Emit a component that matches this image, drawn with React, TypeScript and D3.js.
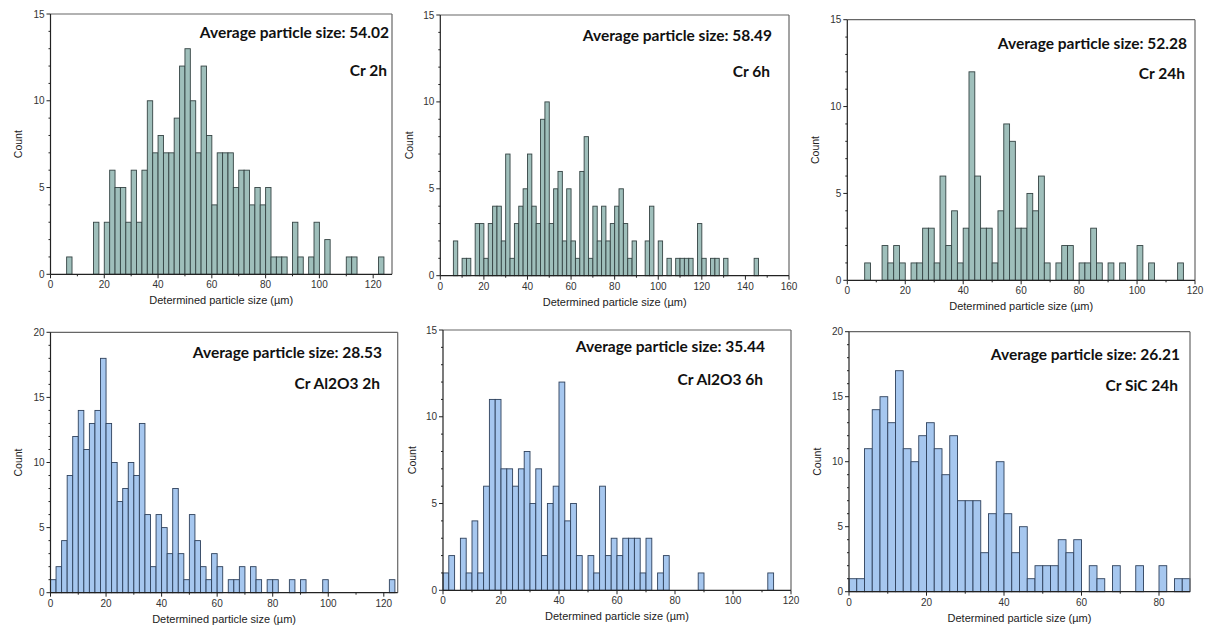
import React from "react";
import * as d3 from "d3";

// ---------- data (bin width 2 µm) ----------
const binWidth = 2;

const cr2hStart = 6;
const cr2hCounts = [1,0,0,0,0,3,0,3,6,5,5,3,6,3,6,10,7,8,7,7,9,12,13,10,7,12,8,4,7,7,7,5,6,6,4,5,4,5,1,1,1,0,3,1,0,1,3,0,2,0,0,0,1,1,0,0,0,0,1];

const cr6hStart = 6;
const cr6hCounts = [2,0,1,1,0,3,3,1,3,4,4,2,7,1,3,4,5,7,4,3,9,10,3,5,6,2,5,2,1,6,8,1,4,2,4,2,3,4,5,3,1,2,0,0,2,4,0,2,0,1,0,1,1,1,1,0,3,1,0,1,1,0,1,0,0,0,0,0,0,1];

const cr24hStart = 6;
const cr24hCounts = [1,0,0,2,1,2,1,0,1,1,3,3,1,6,2,4,1,3,12,6,3,3,1,4,9,8,3,3,5,4,6,1,0,1,2,2,0,1,1,3,1,0,1,0,1,0,0,2,0,1,0,0,0,0,1];

const crAl2h_Start = 0;
const crAl2hCounts = [1,2,4,9,12,14,11,13,14,18,13,10,7,8,10,9,13,6,2,6,5,3,8,3,1,6,4,2,1,3,2,0,1,1,2,0,2,1,0,1,1,0,0,1,0,1,0,0,0,1,0,0,0,0,0,0,0,0,0,0,0,1];

const crAl6h_Start = 0;
const crAl6hCounts = [1,2,0,3,1,4,1,6,11,11,7,7,6,7,8,5,7,2,5,6,12,4,5,2,0,2,1,6,2,3,2,3,3,3,1,3,0,1,2,0,0,0,0,0,1,0,0,0,0,0,0,0,0,0,0,0,1];

const crSiC24h_Start = 0;
const crSiC24hCounts = [1,1,11,14,15,13,17,11,10,12,13,11,9,12,7,7,7,3,6,10,6,3,5,1,2,2,2,4,3,4,0,2,1,0,2,0,0,2,0,0,2,0,1,1];

const averages = ["54.02", "58.49", "52.28", "28.53", "35.44", "26.21"];
const sampleLabels = ["Cr 2h", "Cr 6h", "Cr 24h", "Cr Al2O3 2h", "Cr Al2O3 6h", "Cr SiC 24h"];
const xMaxes = [127, 160, 120, 125, 120, 88];
const yMaxes = [15, 15, 15, 20, 15, 20];
const xTickSteps = [20, 20, 20, 20, 20, 20];
const yTickSteps = [5, 5, 5, 5, 5, 5];

const xTitle = "Determined particle size (µm)";
const yTitle = "Count";

// ---------- layout ----------
const TEAL = "#9fbfbb";
const BLUE = "#a6c7ef";

const panels = [
  { start: cr2hStart, counts: cr2hCounts, box: [50.5, 392, 14, 274.3], fill: TEAL, stroke: "#354444", txtR: 389, avgY: 38, labY: 76, countX: 22 },
  { start: cr6hStart, counts: cr6hCounts, box: [440.3, 789, 15, 275.7], fill: TEAL, stroke: "#354444", txtR: 772, avgY: 41, labY: 77, countX: 413 },
  { start: cr24hStart, counts: cr24hCounts, box: [847.3, 1195, 19.7, 280.3], fill: TEAL, stroke: "#354444", txtR: 1187, avgY: 49, labY: 79, countX: 819 },
  { start: crAl2h_Start, counts: crAl2hCounts, box: [50.5, 397.7, 332.3, 592.7], fill: BLUE, stroke: "#2e415c", txtR: 382, avgY: 358, labY: 389, countX: 22 },
  { start: crAl6h_Start, counts: crAl6hCounts, box: [443, 791, 330, 590.3], fill: BLUE, stroke: "#2e415c", txtR: 765, avgY: 352, labY: 385, countX: 416 },
  { start: crSiC24h_Start, counts: crSiC24hCounts, box: [849, 1190, 331.7, 591.7], fill: BLUE, stroke: "#2e415c", txtR: 1180, avgY: 360, labY: 391, countX: 821 },
];

const tickFont = "'Liberation Sans', Arial, sans-serif";
const annFont = "Lato, 'Open Sans', sans-serif";

function Panel({ p, i }: { p: any; i: number }) {
  const [x0, x1, y0, y1] = p.box;
  const xMax = xMaxes[i];
  const yMax = yMaxes[i];
  const x = d3.scaleLinear().domain([0, xMax]).range([x0, x1]);
  const y = d3.scaleLinear().domain([0, yMax]).range([y1, y0]);
  const xMajor = d3.range(0, xMax + 0.001, xTickSteps[i]);
  const xMinor = d3.range(0, xMax + 0.001, xTickSteps[i] / 2).filter((v) => v % xTickSteps[i] !== 0);
  const yMajor = d3.range(0, yMax + 0.001, yTickSteps[i]);
  const yMinor = d3.range(0, yMax + 0.001, 1).filter((v) => v % yTickSteps[i] !== 0);
  const bars = p.counts
    .map((c: number, k: number) => ({ c, a: p.start + k * binWidth, b: p.start + (k + 1) * binWidth }))
    .filter((d: any) => d.c > 0);
  return (
    <g>
      {bars.map((d: any, k: number) => (
        <rect
          key={k}
          x={x(d.a)}
          y={y(d.c)}
          width={x(d.b) - x(d.a)}
          height={y(0) - y(d.c)}
          fill={p.fill}
          stroke={p.stroke}
          strokeWidth={0.9}
        />
      ))}
      {/* frame */}
      <line x1={x0} x2={x1} y1={y0} y2={y0} stroke="#666" strokeWidth={1.2} />
      <line x1={x1} x2={x1} y1={y0} y2={y1} stroke="#666" strokeWidth={1.2} />
      <line x1={x0} x2={x0} y1={y0} y2={y1} stroke="#222" strokeWidth={1.2} />
      <line x1={x0} x2={x1} y1={y1} y2={y1} stroke="#222" strokeWidth={1.2} />
      {/* x ticks */}
      {xMajor.map((v) => (
        <g key={"xm" + v}>
          <line x1={x(v)} x2={x(v)} y1={y1} y2={y1 + 4} stroke="#222" strokeWidth={1} />
          <text x={x(v)} y={y1 + 14} textAnchor="middle" fontSize={10} fill="#333" fontFamily={tickFont}>
            {v}
          </text>
        </g>
      ))}
      {xMinor.map((v) => (
        <line key={"xn" + v} x1={x(v)} x2={x(v)} y1={y1} y2={y1 + 2} stroke="#222" strokeWidth={1} />
      ))}
      {/* y ticks */}
      {yMajor.map((v) => (
        <g key={"ym" + v}>
          <line x1={x0 - 4} x2={x0} y1={y(v)} y2={y(v)} stroke="#222" strokeWidth={1} />
          <text x={x0 - 6} y={y(v) + 3.5} textAnchor="end" fontSize={10} fill="#333" fontFamily={tickFont}>
            {v}
          </text>
        </g>
      ))}
      {yMinor.map((v) => (
        <line key={"yn" + v} x1={x0 - 2} x2={x0} y1={y(v)} y2={y(v)} stroke="#222" strokeWidth={1} />
      ))}
      {/* axis titles */}
      <text x={(x0 + x1) / 2} y={y1 + 30} textAnchor="middle" fontSize={11} fill="#222" fontFamily={tickFont}>
        {xTitle}
      </text>
      <text
        transform={`translate(${p.countX},${(y0 + y1) / 2}) rotate(-90)`}
        textAnchor="middle"
        fontSize={10.5}
        fill="#222"
        fontFamily={tickFont}
      >
        {yTitle}
      </text>
      {/* annotations */}
      <text x={p.txtR} y={p.avgY} textAnchor="end" fontSize={15.5} fontWeight={700} fill="#111" fontFamily={annFont}>
        {"Average particle size: " + averages[i]}
      </text>
      <text x={p.txtR - 2} y={p.labY} textAnchor="end" fontSize={15.5} fontWeight={700} fill="#111" fontFamily={annFont}>
        {sampleLabels[i]}
      </text>
    </g>
  );
}

export default function App() {
  return (
    <div style={{ position: "absolute", left: 0, top: 0, width: 1205, height: 632, background: "#fff" }}>
      <svg width={1205} height={632} viewBox="0 0 1205 632" style={{ display: "block" }}>
        <rect x={0} y={0} width={1205} height={632} fill="#fff" />
        {panels.map((p, i) => (
          <Panel key={i} p={p} i={i} />
        ))}
      </svg>
    </div>
  );
}
